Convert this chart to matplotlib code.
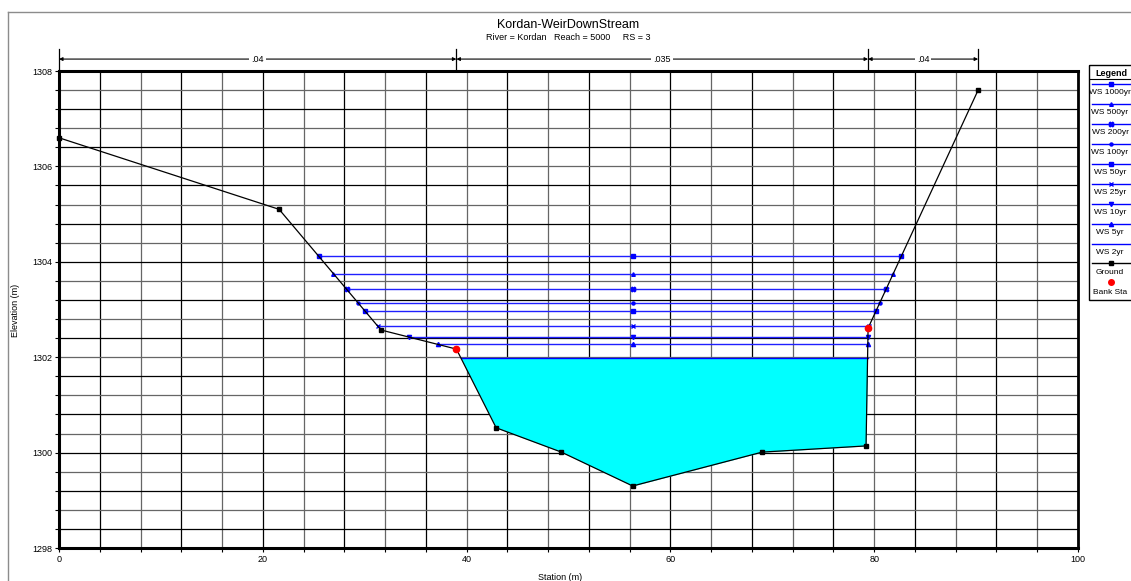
import numpy as np
import matplotlib
matplotlib.use('Agg')
import matplotlib.pyplot as plt
from matplotlib.lines import Line2D
from matplotlib.patches import Rectangle

plt.rcParams['font.family'] = ['Liberation Sans', 'DejaVu Sans']

# Ground profile (station, elevation)
station = [0.0, 21.6, 31.6, 39.0, 42.9, 49.3, 56.3, 69.0, 79.2, 79.4, 90.2]
ground = [1306.6, 1305.1, 1302.57, 1302.17, 1300.52, 1300.01, 1299.30, 1300.01, 1300.14, 1302.61, 1307.6]

# Bank stations
bank_sta = [39.0, 79.4]
bank_elev = [1302.17, 1302.61]

# Water surfaces
profiles = ['WS 1000yr', 'WS 500yr', 'WS 200yr', 'WS 100yr', 'WS 50yr',
            'WS 25yr', 'WS 10yr', 'WS 5yr', 'WS 2yr']
ws_elev = [1304.12, 1303.75, 1303.42, 1303.14, 1302.97, 1302.65, 1302.42, 1302.27, 1301.98]

# Manning's n regions
n_breaks = [0.0, 39.0, 79.4, 90.2]
n_values = ['.04', '.035', '.04']

# marker style per profile
ws_style = {
    'WS 1000yr': ('s', 2.4), 'WS 500yr': ('^', 2.6), 'WS 200yr': ('X', 3.4),
    'WS 100yr': ('o', 2.2), 'WS 50yr': ('s', 3.2), 'WS 25yr': ('x', 3.0),
    'WS 10yr': ('v', 3.0), 'WS 5yr': ('^', 3.0), 'WS 2yr': (None, 0),
}

W, H = 1131, 581
fig = plt.figure(figsize=(W / 100, H / 100), dpi=100)
ax = fig.add_axes([59 / W, (H - 548) / H, (1078 - 59) / W, (548 - 71) / H])

st = np.array(station)
gr = np.array(ground)
imin = int(np.argmin(gr))
left_st, left_gr = st[:imin + 1][::-1], gr[:imin + 1][::-1]
right_st, right_gr = st[imin:], gr[imin:]

# grid
for i, x in enumerate(np.arange(0, 101, 4)):
    ax.axvline(x, color='k' if i % 2 else '0.4', lw=0.9, zorder=0)
for i, y in enumerate(np.arange(1298, 1308.01, 0.4)):
    ax.axhline(y, color='k' if i % 2 else '0.4', lw=0.9, zorder=0)

# water surfaces
for name, ws in zip(profiles, ws_elev):
    xl = np.interp(ws, left_gr, left_st)
    xr = np.interp(ws, right_gr, right_st)
    if name == 'WS 2yr':
        xs = np.linspace(xl, xr, 2000)
        ax.fill_between(xs, np.interp(xs, st, gr), ws, color='#00ffff', lw=0, zorder=2)
        ax.plot([xl, xr], [ws, ws], color='b', lw=1.0, zorder=3)
    else:
        m, ms = ws_style[name]
        ax.plot([xl, st[imin], xr], [ws, ws, ws], color='#2020ff', lw=1.0,
                marker=m, ms=ms, mec='b', mfc='b', mew=1.0, zorder=3)

# ground and bank stations
ax.plot(st, gr, color='k', lw=0.9, marker='s', ms=3, mfc='k', mec='k', zorder=4, clip_on=False)
ax.plot(bank_sta, bank_elev, 'o', color='red', ms=4.5, zorder=5)

ax.set_xlim(0, 100)
ax.set_ylim(1298, 1308)
ax.set_xticks(np.arange(0, 101, 20))
ax.set_xticks(np.arange(0, 101, 4), minor=True)
ax.set_yticks(np.arange(1298, 1309, 2))
ax.set_yticks(np.arange(1298, 1308.01, 0.4), minor=True)
ax.tick_params(which='both', direction='out', length=3, width=0.8, labelsize=6.5, pad=2)
for s in ax.spines.values():
    s.set_linewidth(2.2)
ax.spines['right'].set_linewidth(2.0)

# Manning's n bar above the plot
trans = ax.get_xaxis_transform()
for x in n_breaks:
    ax.plot([x, x], [1.0, 1.046], color='k', lw=0.9, transform=trans, clip_on=False)
for x0, x1, nv in zip(n_breaks[:-1], n_breaks[1:], n_values):
    ax.annotate('', xy=(x1, 1.025), xytext=(x0, 1.025), xycoords=trans, textcoords=trans,
                arrowprops=dict(arrowstyle='<|-|>', lw=0.8, color='k', mutation_scale=5,
                                shrinkA=0, shrinkB=0))
    ax.text((x0 + x1) / 2, 1.025, nv, transform=trans, ha='center', va='center',
            fontsize=6.5, bbox=dict(facecolor='white', edgecolor='none', pad=1.5))

# titles and axis labels
fig.text(568 / W, 1 - 25 / H, 'Kordan-WeirDownStream', ha='center', va='center', fontsize=9)
fig.text(568 / W, 1 - 38 / H, 'River = Kordan   Reach = 5000     RS = 3',
         ha='center', va='center', fontsize=6.5)
fig.text(15 / W, 1 - 310 / H, 'Elevation (m)', rotation=90, ha='center', va='center', fontsize=6.5)
fig.text(560 / W, 1 - 577 / H, 'Station (m)', ha='center', va='center', fontsize=6.5)

# outer frame
fig.add_artist(Line2D([8 / W, 1], [1 - 12 / H] * 2, color='0.55', lw=1))
fig.add_artist(Line2D([8 / W, 8 / W], [0, 1 - 12 / H], color='0.55', lw=1))

# legend panel
lg = fig.add_axes([1089 / W, (H - 300) / H, 60 / W, (300 - 65) / H])
lg.set_xlim(0, 60)
lg.set_ylim(235, 0)
lg.axis('off')
lg.add_patch(Rectangle((0, 0), 60, 235, fill=False, ec='k', lw=1.0, clip_on=False))
lg.text(22, 8, 'Legend', ha='center', va='center', fontsize=6.5, fontweight='bold')
lg.plot([0, 60], [14, 14], color='k', lw=0.8)
for i, name in enumerate(profiles):
    y = 19 + i * 20
    m, ms = ws_style[name]
    lg.plot([3, 60], [y, y], color='b', lw=1.0)
    if m:
        lg.plot([22], [y], marker=m, ms=ms, color='b', mec='b')
    lg.text(21, y + 8, name, ha='center', va='center', fontsize=6.0)
y = 19 + 9 * 20 - 1
lg.plot([3, 60], [y, y], color='k', lw=1.0)
lg.plot([22], [y], marker='s', ms=3, color='k')
lg.text(21, y + 9, 'Ground', ha='center', va='center', fontsize=6.0)
lg.plot([22], [y + 19], 'o', color='red', ms=4)
lg.text(21, y + 29, 'Bank Sta', ha='center', va='center', fontsize=6.0)

fig.savefig('out.png', dpi=100)
